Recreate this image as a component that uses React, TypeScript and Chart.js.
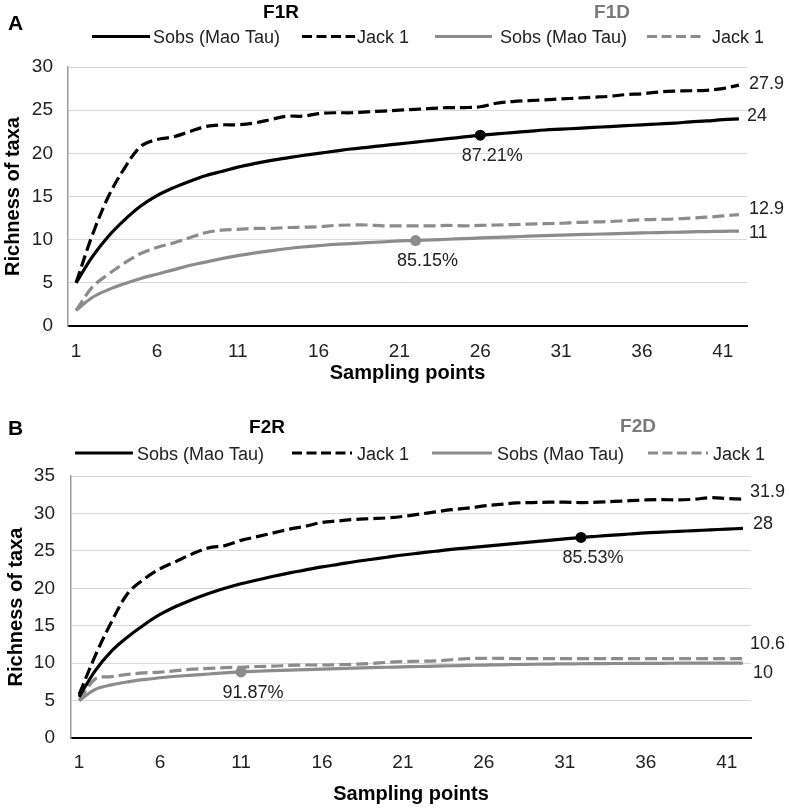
import React, { useEffect, useRef } from "react";
import { Chart, registerables } from "chart.js";

Chart.register(...registerables);

const FONT = "'Liberation Sans', Arial, sans-serif";
const BLACK = "#000000";
const GRAY = "#8c8c8c";
const TEXT = "#222222";

// ---------- data ----------
const samplingPoints = [
  "1", "2", "3", "4", "5", "6", "7", "8", "9", "10", "11", "12", "13", "14",
  "15", "16", "17", "18", "19", "20", "21", "22", "23", "24", "25", "26", "27", "28",
  "29", "30", "31", "32", "33", "34", "35", "36", "37", "38", "39", "40", "41", "42",
];
const seriesNames = ["Sobs (Mao Tau)", "Jack 1", "Sobs (Mao Tau)", "Jack 1"];

const f1rSobs = [5, 8.0, 10.4, 12.3, 13.9, 15.1, 16.0, 16.75, 17.4, 17.9, 18.4, 18.8, 19.15, 19.45, 19.75, 20.0, 20.25, 20.5, 20.7, 20.9, 21.1, 21.3, 21.5, 21.7, 21.9, 22.1, 22.25, 22.4, 22.55, 22.7, 22.8, 22.9, 23.0, 23.1, 23.2, 23.3, 23.4, 23.5, 23.65, 23.75, 23.9, 24];
const f1rJack = [5, 10.5, 15.0, 18.3, 20.8, 21.6, 21.9, 22.5, 23.1, 23.3, 23.3, 23.5, 23.9, 24.3, 24.3, 24.6, 24.7, 24.7, 24.8, 24.9, 25.0, 25.1, 25.2, 25.3, 25.3, 25.4, 25.8, 26.0, 26.1, 26.2, 26.3, 26.4, 26.5, 26.6, 26.8, 26.9, 27.1, 27.2, 27.25, 27.3, 27.5, 27.9];
const f1dSobs = [1.8, 3.3, 4.2, 4.9, 5.5, 6.0, 6.5, 7.0, 7.4, 7.8, 8.15, 8.45, 8.7, 8.95, 9.15, 9.3, 9.45, 9.55, 9.65, 9.75, 9.85, 9.9, 9.98, 10.05, 10.12, 10.2, 10.27, 10.33, 10.4, 10.46, 10.52, 10.58, 10.63, 10.68, 10.73, 10.78, 10.82, 10.86, 10.9, 10.94, 10.97, 11];
const f1dJack = [1.8, 4.5, 6.0, 7.3, 8.4, 9.1, 9.6, 10.2, 10.8, 11.1, 11.2, 11.3, 11.3, 11.4, 11.45, 11.5, 11.65, 11.7, 11.7, 11.6, 11.6, 11.6, 11.6, 11.65, 11.6, 11.65, 11.7, 11.75, 11.8, 11.85, 11.9, 12.0, 12.05, 12.1, 12.2, 12.3, 12.35, 12.4, 12.5, 12.6, 12.75, 12.9];

const f2rSobs = [5.5, 9.0, 11.6, 13.5, 15.1, 16.5, 17.6, 18.5, 19.3, 20.0, 20.6, 21.1, 21.6, 22.05, 22.45, 22.85, 23.2, 23.55, 23.85, 24.15, 24.45, 24.7, 24.95, 25.2, 25.4, 25.6, 25.8, 26.0, 26.2, 26.4, 26.6, 26.8, 26.95, 27.1, 27.25, 27.4, 27.5, 27.6, 27.7, 27.8, 27.9, 28];
const f2rJack = [5.8, 11.0, 15.5, 19.3, 21.2, 22.6, 23.6, 24.6, 25.4, 25.7, 26.4, 26.9, 27.4, 27.9, 28.3, 28.8, 29.0, 29.2, 29.3, 29.4, 29.6, 29.9, 30.2, 30.5, 30.7, 31.0, 31.2, 31.4, 31.45, 31.5, 31.5, 31.45, 31.5, 31.6, 31.7, 31.8, 31.85, 31.8, 31.9, 32.1, 32.0, 31.9];
const f2dSobs = [5.0, 6.5, 7.1, 7.5, 7.8, 8.05, 8.25, 8.4, 8.55, 8.7, 8.83, 8.92, 9.0, 9.07, 9.13, 9.2, 9.27, 9.33, 9.4, 9.45, 9.5, 9.55, 9.6, 9.65, 9.7, 9.74, 9.78, 9.82, 9.85, 9.88, 9.9, 9.92, 9.94, 9.95, 9.96, 9.97, 9.98, 9.99, 10, 10, 10, 10];
const f2dJack = [5.0, 7.9, 8.2, 8.5, 8.7, 8.8, 9.0, 9.2, 9.3, 9.4, 9.45, 9.55, 9.6, 9.7, 9.75, 9.75, 9.8, 9.85, 9.95, 10.1, 10.2, 10.25, 10.3, 10.45, 10.6, 10.65, 10.65, 10.6, 10.6, 10.6, 10.6, 10.6, 10.6, 10.6, 10.6, 10.6, 10.6, 10.6, 10.6, 10.6, 10.6, 10.6];

// highlighted points: [seriesIndex, pointIndex, label]
const markersA: [number, number, string][] = [[0, 25, "87.21%"], [2, 21, "85.15%"]];
const markersB: [number, number, string][] = [[0, 31, "85.53%"], [2, 10, "91.87%"]];

const yMaxA = 30;
const yMaxB = 35;

const LINE_DASH = [12, 5];
const LEGEND_DASH = [10, 4.5];

// ---------- plugin ----------
const annotPlugin = {
  id: "annot",
  afterDatasetsDraw(chart: any, _args: any, opts: any) {
    const ctx = chart.ctx;
    ctx.save();
    ctx.textBaseline = "alphabetic";
    ctx.textAlign = "left";
    ctx.fillStyle = BLACK;
    ctx.font = `bold 21px ${FONT}`;
    ctx.fillText(opts.panel, opts.panelX, opts.panelY);
    ctx.textAlign = "center";
    ctx.font = `bold 19px ${FONT}`;
    opts.groups.forEach((g: any) => {
      ctx.fillStyle = g.color;
      ctx.fillText(g.title, g.x, g.y);
    });
    chart.data.datasets.forEach((ds: any, i: number) => {
      const L = opts.legend[i];
      ctx.strokeStyle = ds.borderColor;
      ctx.lineWidth = 3.2;
      ctx.setLineDash(ds.borderDash && ds.borderDash.length ? LEGEND_DASH : []);
      ctx.beginPath();
      ctx.moveTo(L[0], opts.legendLineY);
      ctx.lineTo(L[1], opts.legendLineY);
      ctx.stroke();
      ctx.setLineDash([]);
      ctx.font = `18px ${FONT}`;
      ctx.fillStyle = TEXT;
      ctx.textAlign = "left";
      ctx.textBaseline = "alphabetic";
      ctx.fillText(ds.label, L[2], opts.legendTextY);
      const meta = chart.getDatasetMeta(i);
      const last = meta.data[meta.data.length - 1];
      const v = ds.data[ds.data.length - 1];
      ctx.textBaseline = "middle";
      ctx.fillText(String(v), last.x + opts.endOffsets[i][0], last.y + opts.endOffsets[i][1]);
    });
    ctx.font = `18px ${FONT}`;
    ctx.fillStyle = TEXT;
    ctx.textAlign = "center";
    ctx.textBaseline = "middle";
    opts.markers.forEach((m: [number, number, string]) => {
      const pt = chart.getDatasetMeta(m[0]).data[m[1]];
      ctx.fillText(m[2], pt.x + 12, pt.y + 21);
    });
    ctx.restore();
  },
};

function radii(markers: [number, number, string][], series: number, n: number) {
  const r = new Array(n).fill(0);
  markers.forEach((m) => {
    if (m[0] === series) r[m[1]] = 5.5;
  });
  return r;
}

function buildConfig(p: any) {
  const colors = [BLACK, BLACK, GRAY, GRAY];
  const dashes = [[], LINE_DASH, [], LINE_DASH];
  const datasets = p.series.map((d: number[], i: number) => ({
    label: seriesNames[i],
    data: d,
    borderColor: colors[i],
    backgroundColor: colors[i],
    borderWidth: 3.2,
    borderDash: dashes[i],
    tension: 0.35,
    pointRadius: radii(p.markers, i, d.length),
    pointHoverRadius: 0,
    pointBorderWidth: 0,
    fill: false,
  }));
  return {
    type: "line",
    data: { labels: samplingPoints, datasets },
    options: {
      responsive: false,
      animation: false,
      events: [],
      layout: { padding: { top: p.top, right: p.right, left: 0, bottom: 0 } },
      plugins: {
        legend: { display: false },
        tooltip: { enabled: false },
        title: { display: false },
        annot: p.annot,
      },
      scales: {
        x: {
          type: "category",
          offset: true,
          grid: { display: false, drawTicks: false },
          border: { display: true, color: "#000", width: 2 },
          ticks: {
            autoSkip: false,
            maxRotation: 0,
            padding: p.xTickPad,
            color: TEXT,
            font: { size: 19, family: FONT },
            callback: function (this: any, val: any, idx: number) {
              return idx % 5 === 0 ? this.getLabelForValue(val) : "";
            },
          },
          title: {
            display: true,
            text: "Sampling points",
            color: BLACK,
            font: { size: 20, weight: "bold", family: FONT },
            padding: { top: 0, bottom: p.xTitlePad },
          },
          afterFit: (s: any) => {
            s.height = p.xHeight;
          },
        },
        y: {
          min: 0,
          max: p.yMax,
          ticks: {
            stepSize: 5,
            padding: p.yTickPad,
            color: TEXT,
            font: { size: 19, family: FONT },
          },
          grid: { color: "#d9d9d9", lineWidth: 1, drawTicks: false },
          border: { display: true, color: "#9a9a9a", width: 1.5 },
          title: {
            display: true,
            text: "Richness of taxa",
            color: BLACK,
            font: { size: 20, weight: "bold", family: FONT },
            padding: { top: p.yTitlePad, bottom: 0 },
          },
          afterFit: (s: any) => {
            s.width = p.yWidth;
          },
        },
      },
    },
    plugins: [annotPlugin],
  };
}

const panelA = {
  series: [f1rSobs, f1rJack, f1dSobs, f1dJack],
  markers: markersA,
  yMax: yMaxA,
  top: 67,
  right: 42,
  xHeight: 74,
  yWidth: 68,
  xTickPad: 14,
  xTitlePad: 15,
  yTickPad: 15,
  yTitlePad: 1.5,
  annot: {
    panel: "A",
    panelX: 8,
    panelY: 30,
    groups: [
      { title: "F1R", x: 281, y: 18, color: BLACK },
      { title: "F1D", x: 612, y: 18, color: "#7a7a7a" },
    ],
    legendLineY: 36.5,
    legendTextY: 42.5,
    legend: [
      [92, 150, 153],
      [302, 355, 357],
      [435, 492, 500],
      [647, 705, 712],
    ],
    endOffsets: [[8, -3], [10, -1.5], [10, 2], [10, -6]],
    markers: markersA,
  },
};

const panelB = {
  series: [f2rSobs, f2rJack, f2dSobs, f2dJack],
  markers: markersB,
  yMax: yMaxB,
  top: 76,
  right: 38,
  xHeight: 71,
  yWidth: 71,
  xTickPad: 13,
  xTitlePad: 3,
  yTickPad: 16,
  yTitlePad: 4,
  annot: {
    panel: "B",
    panelX: 8,
    panelY: 35,
    groups: [
      { title: "F2R", x: 267, y: 33, color: BLACK },
      { title: "F2D", x: 638, y: 32, color: "#7a7a7a" },
    ],
    legendLineY: 53,
    legendTextY: 59.5,
    legend: [
      [75, 133, 137],
      [292, 352, 357],
      [432, 492, 497],
      [648, 708, 713],
    ],
    endOffsets: [[10, -4], [7, -7], [10, 10], [7, -15]],
    markers: markersB,
  },
};

function Panel({ cfg, top, height }: { cfg: any; top: number; height: number }) {
  const ref = useRef<HTMLCanvasElement | null>(null);
  useEffect(() => {
    if (!ref.current) return;
    const chart = new Chart(ref.current, buildConfig(cfg) as any);
    return () => chart.destroy();
  }, [cfg]);
  return (
    <canvas
      ref={ref}
      width={789}
      height={height}
      style={{ position: "absolute", left: 0, top, width: 789, height }}
    />
  );
}

export default function App() {
  if (typeof document !== "undefined") {
    document.body.style.margin = "0";
    document.body.style.background = "#ffffff";
  }
  return (
    <div style={{ position: "relative", width: 789, height: 809, background: "#fff", overflow: "hidden" }}>
      <Panel cfg={panelA} top={0} height={400} />
      <Panel cfg={panelB} top={400} height={409} />
    </div>
  );
}
